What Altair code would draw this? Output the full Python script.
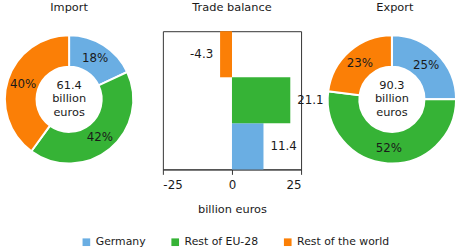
import altair as alt
import pandas as pd

regions = ["Germany", "Rest of EU-28", "Rest of the world"]
colors = ["#6aaee3", "#36b336", "#fb7f06"]
import_pct = [18, 42, 40]
export_pct = [25, 52, 23]
import_total = 61.4
export_total = 90.3
balance = [11.4, 21.1, -4.3]

FONT = "DejaVu Sans"
TXT = "#1a1a1a"

color_scale = alt.Scale(domain=regions, range=colors)


def donut(pcts, total, title, cx):
    df = pd.DataFrame({
        "region": regions,
        "pct": pcts,
        "order": list(range(len(regions))),
        "label": [f"{p}%" for p in pcts],
    })
    base = alt.Chart(df).encode(
        theta=alt.Theta("pct:Q", stack=True),
        order=alt.Order("order:Q"),
        x=alt.value(cx),
        y=alt.value(69),
    )
    arcs = base.mark_arc(innerRadius=33, outerRadius=65, stroke="white", strokeWidth=2).encode(
        color=alt.Color("region:N", scale=color_scale, sort=regions,
                        legend=alt.Legend(title=None, orient="none", direction="horizontal",
                                          legendX=77, legendY=208, symbolType="square",
                                          symbolSize=60, labelFontSize=11, labelFont=FONT,
                                          labelColor=TXT, columnPadding=24, labelOffset=4,
                                          symbolStrokeWidth=0))
    )
    labels = base.mark_text(radius=49, fontSize=12, font=FONT, color=TXT).encode(
        text="label:N"
    )
    center = alt.Chart(pd.DataFrame({"t": [f"{total}\nbillion\neuros"]})).mark_text(
        lineBreak="\n", fontSize=11.5, font=FONT, color=TXT, lineHeight=13.5,
        baseline="middle", dy=-13.5
    ).encode(text="t:N", x=alt.value(cx), y=alt.value(69))
    return alt.layer(arcs, labels, center).properties(
        width=130, height=140,
        title=alt.TitleParams(title, fontSize=11.5, font=FONT, fontWeight="normal", color=TXT, offset=18),
        view=alt.ViewBackground(stroke=None),
    )


bdf = pd.DataFrame({"region": regions, "value": balance,
                    "label": [f"{v:.1f}" for v in balance]})
bbase = alt.Chart(bdf).encode(
    y=alt.Y("region:N", sort=list(reversed(regions)), axis=None,
            scale=alt.Scale(paddingInner=0, paddingOuter=0)),
    x=alt.X("value:Q", scale=alt.Scale(domain=[-25, 25], nice=False),
            axis=alt.Axis(values=[-25, 0, 25], grid=False, title="billion euros",
                          labelExpr="replace(datum.label, '\u2212', '-')",
                          titleFontWeight="normal", titleFontSize=11.5, titleFont=FONT,
                          titleColor=TXT, labelFontSize=12, labelFont=FONT, labelColor=TXT,
                          tickColor="#333", domainColor="#333", tickSize=5,
                          labelPadding=5, titlePadding=14)),
)
bars = bbase.mark_bar().encode(color=alt.Color("region:N", scale=color_scale, sort=regions))
pos_lab = bbase.transform_filter("datum.value >= 0").mark_text(
    align="left", dx=7, fontSize=12, font=FONT, color=TXT).encode(text="label:N")
neg_lab = bbase.transform_filter("datum.value < 0").mark_text(
    align="right", dx=-7, fontSize=12, font=FONT, color=TXT).encode(text="label:N")
bar_chart = alt.layer(bars, pos_lab, neg_lab).properties(
    width=140, height=140,
    title=alt.TitleParams("Trade balance", fontSize=11.5, font=FONT, fontWeight="normal", color=TXT, offset=18),
    view=alt.ViewBackground(stroke="#333", strokeWidth=1),
)

chart = alt.hconcat(
    donut(import_pct, import_total, "Import", 65),
    bar_chart,
    donut(export_pct, export_total, "Export", 62),
    spacing=30,
    bounds="flush",
).properties(
    padding={"left": 1, "top": 0, "right": 0, "bottom": 0},
    background="white",
).configure_legend(orient="none")

chart.save("out.html", embed_options={"renderer": "svg", "actions": False})
